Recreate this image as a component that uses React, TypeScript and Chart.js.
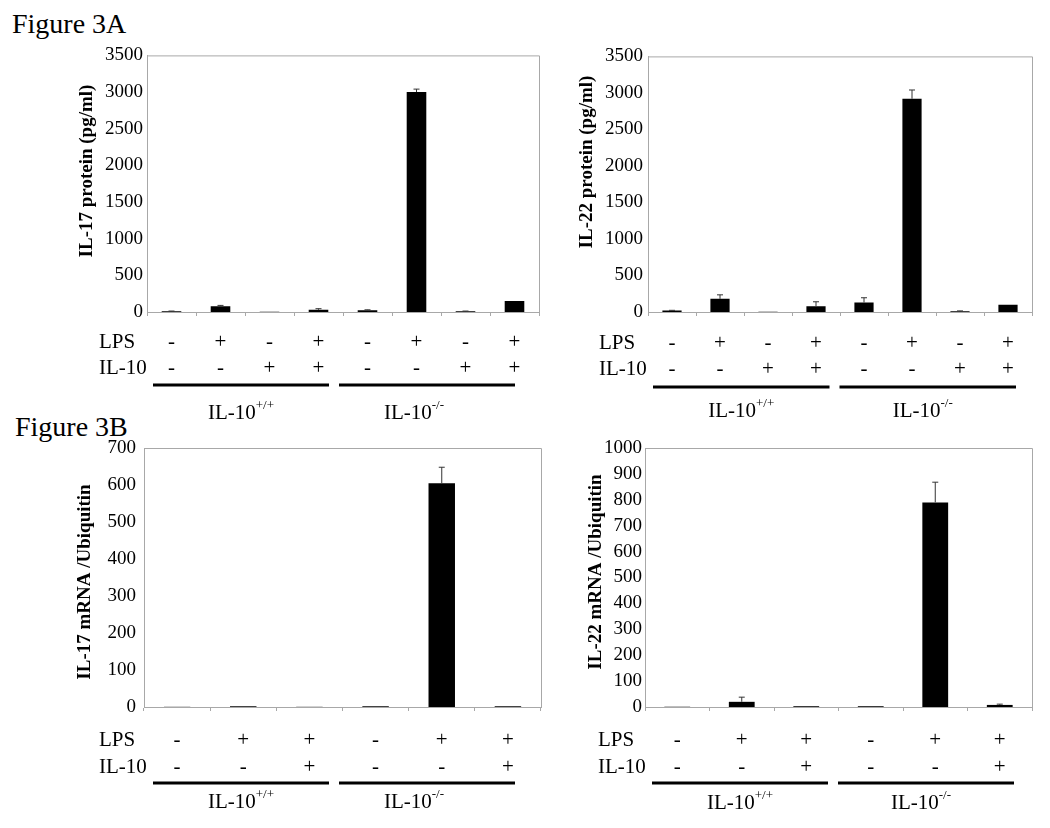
import React, { useEffect, useRef } from "react";
import { Chart, registerables } from "chart.js";

Chart.register(...registerables);

const SERIF = '"Liberation Serif", "Times New Roman", Times, serif';

// ---------- data ----------
const lpsSigns8 = ["-", "+", "-", "+", "-", "+", "-", "+"];
const il10Signs8 = ["-", "-", "+", "+", "-", "-", "+", "+"];
const lpsSigns6 = ["-", "+", "+", "-", "+", "+"];
const il10Signs6 = ["-", "-", "+", "-", "-", "+"];

const rowTitles = ["LPS", "IL-10"];
const groupBase = "IL-10";
const groupSup = ["+/+", "-/-"];

const il17ProteinValues = [10, 80, 2, 30, 25, 3000, 10, 150];
const il17ProteinErrors = [3, 10, 0, 15, 5, 40, 3, 0];
const il22ProteinValues = [20, 180, 2, 80, 130, 2920, 10, 100];
const il22ProteinErrors = [3, 55, 0, 60, 65, 120, 5, 0];
const il17MrnaValues = [0.5, 2, 0.5, 2, 605, 2];
const il17MrnaErrors = [0, 0, 0, 0, 43, 0];
const il22MrnaValues = [1, 20, 3, 3, 790, 8];
const il22MrnaErrors = [0, 18, 0, 0, 78, 3];

const figureTitles = ["Figure 3A", "Figure 3B"];

// ---------- panel layout ----------
type Panel = {
  left: number; top: number; width: number; height: number;
  padTop: number; padRight: number; yWidth: number; xHeight: number;
  values: number[]; errors: number[]; lps: string[]; il10: string[];
  max: number; step: number; yTitle: string;
  titleX: number; titleY: number; rowX: number;
  yTickPad: number; xTickPad: number; lineH: number;
  lineStart: number; lineEnd: number; lineY: number; labelY: number;
  label2Shift: number;
};

const panels: Panel[] = [
  {
    left: 40, top: 40, width: 510, height: 390, padTop: 12, padRight: 11, yWidth: 107, xHeight: 118,
    values: il17ProteinValues, errors: il17ProteinErrors, lps: lpsSigns8, il10: il10Signs8,
    max: 3500, step: 500, yTitle: "IL-17 protein (pg/ml)",
    titleX: 47, titleY: 131, rowX: 59, yTickPad: 4, xTickPad: 13, lineH: 26,
    lineStart: 6, lineEnd: 24, lineY: 73, labelY: 101, label2Shift: -13,
  },
  {
    left: 540, top: 40, width: 510, height: 390, padTop: 12, padRight: 18, yWidth: 108, xHeight: 118,
    values: il22ProteinValues, errors: il22ProteinErrors, lps: lpsSigns8, il10: il10Signs8,
    max: 3500, step: 500, yTitle: "IL-22 protein (pg/ml)",
    titleX: 47.5, titleY: 122, rowX: 59, yTickPad: 5, xTickPad: 14, lineH: 26,
    lineStart: 5, lineEnd: 16, lineY: 75, labelY: 99, label2Shift: -5,
  },
  {
    left: 40, top: 420, width: 510, height: 400, padTop: 28, padRight: 9, yWidth: 104, xHeight: 113,
    values: il17MrnaValues, errors: il17MrnaErrors, lps: lpsSigns6, il10: il10Signs6,
    max: 700, step: 100, yTitle: "IL-17 mRNA /Ubiquitin",
    titleX: 45, titleY: 162, rowX: 59, yTickPad: 8, xTickPad: 16, lineH: 27,
    lineStart: 9, lineEnd: 26, lineY: 76, labelY: 95, label2Shift: -13,
  },
  {
    left: 540, top: 420, width: 510, height: 400, padTop: 28, padRight: 18, yWidth: 105, xHeight: 113,
    values: il22MrnaValues, errors: il22MrnaErrors, lps: lpsSigns6, il10: il10Signs6,
    max: 1000, step: 100, yTitle: "IL-22 mRNA /Ubiquitin",
    titleX: 56, titleY: 152, rowX: 58, yTickPad: 3, xTickPad: 16, lineH: 27,
    lineStart: 7, lineEnd: 18, lineY: 76, labelY: 96, label2Shift: -5,
  },
];

const FRAME = "#a8a8a8";
const TICK_LEN = 4;

function makeExtras(p: Panel) {
  return {
    id: "extras",
    afterDatasetsDraw(chart: any) {
      const { ctx } = chart;
      const y = chart.scales.y;
      const meta = chart.getDatasetMeta(0);
      ctx.save();
      ctx.strokeStyle = "#333";
      ctx.lineWidth = 1;
      meta.data.forEach((el: any, i: number) => {
        const e = p.errors[i];
        if (!e) return;
        const top = y.getPixelForValue(p.values[i] + e);
        ctx.beginPath();
        ctx.moveTo(el.x, el.y);
        ctx.lineTo(el.x, top);
        ctx.moveTo(el.x - 3, top);
        ctx.lineTo(el.x + 3, top);
        ctx.stroke();
      });
      ctx.restore();
    },
    afterDraw(chart: any) {
      const { ctx, chartArea } = chart;
      const { left, right, top, bottom } = chartArea;
      ctx.save();
      // frame
      ctx.strokeStyle = FRAME;
      ctx.lineWidth = 1;
      ctx.beginPath();
      ctx.moveTo(left, top + 0.5);
      ctx.lineTo(right + 0.5, top + 0.5);
      ctx.lineTo(right + 0.5, bottom);
      ctx.stroke();

      // y title
      ctx.fillStyle = "#000";
      ctx.font = `bold 19px ${SERIF}`;
      ctx.textAlign = "center";
      ctx.textBaseline = "middle";
      ctx.save();
      ctx.translate(p.titleX, p.titleY);
      ctx.rotate(-Math.PI / 2);
      ctx.fillText(p.yTitle, 0, 0);
      ctx.restore();

      // row titles
      ctx.font = `21px ${SERIF}`;
      ctx.textAlign = "left";
      const y1 = bottom + TICK_LEN + p.xTickPad + p.lineH / 2;
      rowTitles.forEach((t, i) => ctx.fillText(t, p.rowX, y1 + i * p.lineH));

      // group lines
      const ls = left + p.lineStart;
      const le = right - p.lineEnd;
      const gap = 10;
      const segW = (le - ls - gap) / 2;
      const ly = bottom + p.lineY;
      ctx.strokeStyle = "#000";
      ctx.lineWidth = 3;
      const segs = [[ls, ls + segW], [ls + segW + gap, le]];
      segs.forEach(([a, b]) => {
        ctx.beginPath();
        ctx.moveTo(a, ly);
        ctx.lineTo(b, ly);
        ctx.stroke();
      });

      // group labels with superscripts
      const gy = bottom + p.labelY;
      segs.forEach(([a, b], i) => {
        ctx.font = `21px ${SERIF}`;
        const w1 = ctx.measureText(groupBase).width;
        ctx.font = `13px ${SERIF}`;
        const w2 = ctx.measureText(groupSup[i]).width;
        const cx = (a + b) / 2 + (i === 1 ? p.label2Shift : 0);
        const x0 = cx - (w1 + w2) / 2;
        ctx.textAlign = "left";
        ctx.textBaseline = "middle";
        ctx.font = `21px ${SERIF}`;
        ctx.fillText(groupBase, x0, gy);
        ctx.font = `13px ${SERIF}`;
        ctx.fillText(groupSup[i], x0 + w1, gy - 7);
      });
      ctx.restore();
    },
  };
}

function PanelChart({ p }: { p: Panel }) {
  const ref = useRef<HTMLCanvasElement>(null);
  useEffect(() => {
    if (!ref.current) return;
    const labels = p.lps.map((s, i) => [s, p.il10[i]]);
    const chart = new Chart(ref.current, {
      type: "bar",
      data: {
        labels,
        datasets: [
          {
            data: p.values,
            backgroundColor: "#000",
            borderColor: "#000",
            borderWidth: 0,
            categoryPercentage: 1,
            barPercentage: 0.4,
          },
        ],
      },
      options: {
        animation: false,
        responsive: false,
        maintainAspectRatio: false,
        layout: { padding: { top: p.padTop, right: p.padRight, left: 0, bottom: 0 } },
        plugins: { legend: { display: false }, tooltip: { enabled: false } },
        scales: {
          x: {
            grid: {
              display: true,
              offset: true,
              drawOnChartArea: false,
              drawTicks: true,
              tickLength: TICK_LEN,
              color: FRAME,
            },
            border: { display: true, color: FRAME, width: 1 },
            ticks: {
              autoSkip: false,
              maxRotation: 0,
              minRotation: 0,
              padding: p.xTickPad,
              color: "#000",
              font: { family: SERIF, size: 21, lineHeight: p.lineH / 21 },
            },
            afterFit: (s: any) => {
              s.height = p.xHeight;
            },
          },
          y: {
            min: 0,
            max: p.max,
            grid: { display: false, drawOnChartArea: false, drawTicks: false },
            border: { display: true, color: FRAME, width: 1 },
            ticks: {
              stepSize: p.step,
              padding: p.yTickPad,
              color: "#000",
              font: { family: SERIF, size: 19 },
              callback: (v: any) => String(v),
            },
            afterFit: (s: any) => {
              s.width = p.yWidth;
            },
          },
        },
      },
      plugins: [makeExtras(p)],
    });
    return () => chart.destroy();
  }, [p]);
  return (
    <canvas
      ref={ref}
      width={p.width}
      height={p.height}
      style={{ position: "absolute", left: p.left, top: p.top, width: p.width, height: p.height }}
    />
  );
}

export default function App() {
  return (
    <div style={{ position: "absolute", left: 0, top: 0, width: 1050, height: 828, background: "#fff", overflow: "hidden" }}>
      <div style={{ position: "absolute", left: 12, top: 10, fontFamily: SERIF, fontSize: 28, lineHeight: "28px", color: "#000", whiteSpace: "nowrap" }}>
        {figureTitles[0]}
      </div>
      <div style={{ position: "absolute", left: 15, top: 413, fontFamily: SERIF, fontSize: 28, lineHeight: "28px", color: "#000", whiteSpace: "nowrap" }}>
        {figureTitles[1]}
      </div>
      {panels.map((p, i) => (
        <PanelChart key={i} p={p} />
      ))}
    </div>
  );
}
